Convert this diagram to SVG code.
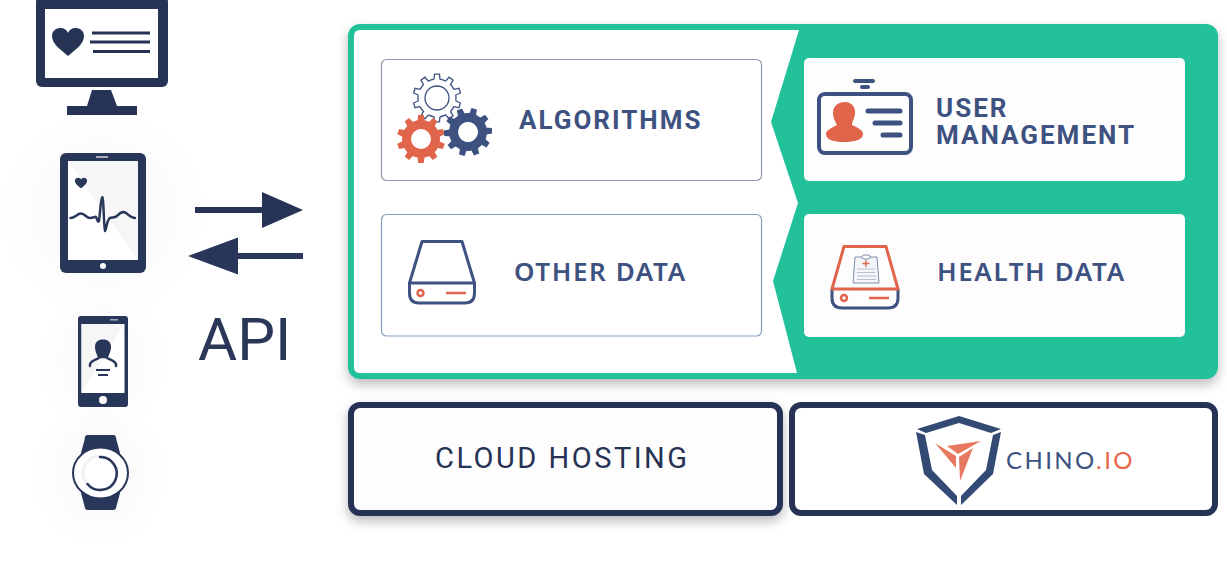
<svg xmlns="http://www.w3.org/2000/svg" xmlns:xlink="http://www.w3.org/1999/xlink" width="1227" height="567" viewBox="0 0 1227 567">
<style>
.navy{fill:#263354}
.blue{fill:#3d5280}
.org{fill:#e0654a}
.t{font-family:Roboto,"Liberation Sans",sans-serif;font-weight:700;font-size:26px;fill:#3d5280;letter-spacing:2px}
.d{font-family:"Noto Sans",Roboto,sans-serif;font-weight:600;font-size:26px;fill:#3d5280;letter-spacing:1.600px}
.box{fill:#fff;stroke:#8f9ab0;stroke-width:1.2}
.wbox{fill:#fdfdfe}
.plat{fill:#fdfdfe;stroke:#263354;stroke-width:6}
.ln{fill:none;stroke:#3d5280;stroke-width:3;stroke-linejoin:round;stroke-linecap:round}
</style>
<defs>
<filter id="sh" x="-10%" y="-20%" width="120%" height="150%"><feDropShadow dx="0" dy="5" stdDeviation="6" flood-color="#000" flood-opacity=".28"/></filter>
<radialGradient id="glow"><stop offset="0" stop-color="#f1f1f1"/><stop offset=".55" stop-color="#f8f8f8"/><stop offset="1" stop-color="#fff"/></radialGradient>
<path id="heart" d="M0 14C-8 7-16 2-16-6C-16-11-12-14-8-14C-4-14-1-12 0-9C1-12 4-14 8-14C12-14 16-11 16-6C16 2 8 7 0 14Z"/>
<path id="to" d="M-2.97-18.77L-2.5-23.87L2.5-23.87L2.97-18.77A19 19 0 0 1 8.63-16.93" fill="none" stroke="#3d5280" stroke-width="1.3"/>
<g id="gearT">
<use xlink:href="#to"/><use xlink:href="#to" transform="rotate(36)"/><use xlink:href="#to" transform="rotate(72)"/><use xlink:href="#to" transform="rotate(108)"/><use xlink:href="#to" transform="rotate(144)"/><use xlink:href="#to" transform="rotate(180)"/><use xlink:href="#to" transform="rotate(216)"/><use xlink:href="#to" transform="rotate(252)"/><use xlink:href="#to" transform="rotate(288)"/><use xlink:href="#to" transform="rotate(324)"/>
</g>
<path id="tf" d="M-3.6-17L-2.8-24L2.8-24L3.6-17Z"/>
<g id="gearF">
<circle r="19"/>
<use xlink:href="#tf"/><use xlink:href="#tf" transform="rotate(36)"/><use xlink:href="#tf" transform="rotate(72)"/><use xlink:href="#tf" transform="rotate(108)"/><use xlink:href="#tf" transform="rotate(144)"/><use xlink:href="#tf" transform="rotate(180)"/><use xlink:href="#tf" transform="rotate(216)"/><use xlink:href="#tf" transform="rotate(252)"/><use xlink:href="#tf" transform="rotate(288)"/><use xlink:href="#tf" transform="rotate(324)"/>
<circle r="10" fill="#fff"/>
</g>
<marker id="ah" markerUnits="userSpaceOnUse" markerWidth="42" markerHeight="38" refX="0" refY="19" orient="auto"><path d="M0 1L41 19L0 37Z" fill="#263354"/></marker>
<marker id="ah2" markerUnits="userSpaceOnUse" markerWidth="51" markerHeight="40" refX="0" refY="20" orient="auto"><path d="M0 1.500L50 20L0 38.500Z" fill="#283659"/></marker>
</defs>

<g id="glows">
<ellipse cx="103" cy="213" rx="105" ry="105" fill="url(#glow)" opacity=".55"/>
<ellipse cx="103" cy="362" rx="65" ry="75" fill="url(#glow)" opacity=".5"/>
<ellipse cx="100" cy="473" rx="70" ry="75" fill="url(#glow)" opacity=".5"/>
</g>

<g id="desktop">
<rect x="36" y="-4" width="132" height="91" rx="6" class="navy"/>
<rect x="45" y="9" width="113" height="69" fill="#fff"/>
<path d="M92 90H111L117 106H137V115H67V106H87Z" class="navy"/>
<use xlink:href="#heart" transform="translate(68 42)" class="navy"/>
<path d="M92 31.500h58v3h-58zM90 40.500h60v3h-60zM93 50h57v3h-57z" class="navy"/>
</g>

<g id="tablet">
<rect x="60" y="153" width="86" height="120" rx="6" fill="#283659"/>
<rect x="68" y="161" width="70" height="99" fill="#fff"/>
<path d="M68 161H138V260Z" fill="#f6f6f6"/>
<rect x="96" y="156" width="12" height="2" fill="#aab"/>
<circle cx="103" cy="266" r="3" fill="#fff"/>
<use xlink:href="#heart" transform="translate(81 183) scale(.38)" fill="#283659"/>
<path d="M70.500 218C75 218 77 213.500 81 213.500C85 213.500 86 218 90 218C94 218 95 216 96 217C97 219 98 223 99 221C100 214 101 197 102.500 197C103.500 197 104 230 105 231C106 231 107 219 110 218C113 217 116 218 118 215C120 213 123 211 126 213C129 215 131 218 135 218" fill="none" stroke="#283659" stroke-width="2.500" stroke-linejoin="round" stroke-linecap="round"/>
</g>

<g id="phone">
<rect x="78" y="316" width="50" height="91" rx="3" fill="#283659"/>
<rect x="81.500" y="324" width="43" height="69" fill="#fff"/>
<path d="M81.500 324H124.500L81.500 393Z" fill="#f6f6f6"/>
<rect x="110" y="319" width="8" height="1.500" fill="#aab"/>
<circle cx="103" cy="400" r="4" fill="#fff"/>
<path d="M95 347C95 342 98 339.500 103 339.500C108 339.500 111 342 111 347C111 352 108 356 108 358H98C98 356 95 352 95 347Z" fill="#283659"/>
<path d="M90 366C89 361 95 360 98 358.500L100 357H106L108 358.500C111 360 117 361 116 366" fill="none" stroke="#283659" stroke-width="2.500" stroke-linecap="round"/>
<path d="M96 370H110M98 375H108" stroke="#283659" stroke-width="2"/>
</g>

<g id="watch">
<path d="M88 435H113C116 435 116 437 116.500 440L120 453V493L116.500 506C116 508 116 510 113 510H88C85 510 85 508 84.500 506L81 493V453L84.500 440C85 437 85 435 88 435Z" fill="#283659"/>
<ellipse cx="100.500" cy="473" rx="27.500" ry="25.500" fill="#fff" stroke="#283659" stroke-width="2"/>
<circle cx="100" cy="473" r="17" fill="none" stroke="#f2f2f2" stroke-width="3"/>
<path d="M100 457A16.500 16.500 0 1 1 87.500 484" fill="none" stroke="#283659" stroke-width="2.500" stroke-linecap="round"/>
</g>

<g id="connectors">
<line x1="195" y1="210" x2="262" y2="210" stroke="#263354" stroke-width="6" marker-end="url(#ah)"/>
<line x1="303" y1="256" x2="238" y2="256" stroke="#283659" stroke-width="6" marker-end="url(#ah2)"/>
</g>
<text id="api" x="198" y="360" font-family="Roboto,'Liberation Sans',sans-serif" font-weight="400" font-size="60" fill="#2a3757">API</text>

<g id="panel">
<rect x="348" y="24" width="870" height="355" rx="12" fill="#22c19a" filter="url(#sh)"/>
<path d="M360 30H799L771 122L798 203L773 281L797 373H360Q354 373 354 367V36Q354 30 360 30Z" fill="#fff"/>
</g>

<g id="algorithms">
<rect x="381.500" y="59.500" width="380" height="121" rx="5" class="box"/>
<g transform="translate(437 98)"><circle r="19" fill="#fff" stroke="none"/><use xlink:href="#gearT"/><circle r="12" fill="none" stroke="#3d5280" stroke-width="1.300"/></g>
<use xlink:href="#gearF" transform="translate(421 139)" class="org"/>
<use xlink:href="#gearF" transform="translate(468 132) rotate(15)" class="blue"/>
<text x="519" y="129" class="t">ALGORITHMS</text>
</g>

<g id="other-data">
<rect x="381.500" y="214.500" width="380" height="121.500" rx="5" class="box" style="stroke:#86a0bd"/>
<path d="M422 241.500H462L474.500 283H409.500ZM409.500 283V293Q409.500 303 419 303H465Q474.500 303 474.500 293V283" class="ln"/>
<circle cx="420.500" cy="293" r="3" fill="none" stroke="#e0654a" stroke-width="2.500"/>
<path d="M446 293H466" stroke="#e0654a" stroke-width="2.500"/>
<text x="514" y="281" class="d">OTHER DATA</text>
</g>

<g id="user-management">
<rect x="804" y="58" width="381" height="123" rx="5" class="wbox"/>
<rect x="819" y="94" width="92" height="59" rx="6" fill="none" stroke="#3d5280" stroke-width="4"/>
<path d="M855 81H873M862 87H868" stroke="#3d5280" stroke-width="4" stroke-linecap="round"/>
<path d="M833 113C833 106 838 102 845 102C852 102 856 108 855 114C854 120 852 122 852 125C858 128 863 130 863 134C863 140 854 142 844 142C834 142 826 140 826 134C826 130 832 128 837 125C835 121 833 118 833 113Z" class="org"/>
<path d="M868 111H900M875 123H900M883 135H900" stroke="#3d5280" stroke-width="5" stroke-linecap="round"/>
<text class="t"><tspan x="936" y="117">USER</tspan><tspan x="936" y="144">MANAGEMENT</tspan></text>
</g>

<g id="health-data">
<rect x="804" y="214" width="381" height="123" rx="5" class="wbox"/>
<path d="M832 289V298Q832 308 842 308H888Q898 308 898 298V289" fill="none" stroke="#3d5280" stroke-width="3"/>
<path d="M844 246.500H886L898 289H832Z" fill="none" stroke="#e0654a" stroke-width="3" stroke-linejoin="round"/>
<circle cx="844" cy="298" r="3" fill="none" stroke="#e0654a" stroke-width="2.500"/>
<path d="M869 298H889" stroke="#e0654a" stroke-width="2.500"/>
<path d="M855 257H877L879 283H853Z" fill="#f4f5f8" stroke="#7f8dab" stroke-width="1"/>
<rect x="862" y="255" width="8" height="4" rx="2" fill="#fff" stroke="#7f8dab" stroke-width="1"/>
<path d="M866 260V267M862.500 263.500H869.500" stroke="#e0654a" stroke-width="1.300"/>
<path d="M857 269H875M857 272.500H875M857 276H876M856.500 279.500H876" stroke="#b8c0d0" stroke-width="1"/>
<text x="937" y="281" class="d">HEALTH DATA</text>
</g>

<g id="cloud-hosting">
<rect x="351" y="405" width="429" height="108" rx="9" class="plat" filter="url(#sh)"/>
<text x="435" y="468" font-family="Roboto,'Liberation Sans',sans-serif" font-size="29" fill="#263354" letter-spacing="2.500">CLOUD HOSTING</text>
</g>

<g id="chino">
<rect x="792" y="405" width="423" height="108" rx="9" fill="#fff" stroke="#263354" stroke-width="6"/>
<path d="M917 429L959 416L1001 429L991 433L959 423L926 433Z" fill="#334a74"/>
<path d="M916 432L925 435L932 470L957 496V505L924 474Z" fill="#334a74"/>
<path d="M1001 432L993 435L986 470L961 496V505L993 474Z" fill="#334a74"/>
<path d="M935 443L956 456V468Z" fill="#e8785f"/>
<path d="M947 446L981 441L958 454Z" fill="#e8785f"/>
<path d="M960 481L959 457L973 448Z" fill="#e8785f"/>
<text x="1006" y="469" font-family="Lato,'Noto Sans',sans-serif" font-size="24" fill="#3d5280" letter-spacing="2.400">CHINO<tspan fill="#e8654a">.IO</tspan></text>
</g>
</svg>
